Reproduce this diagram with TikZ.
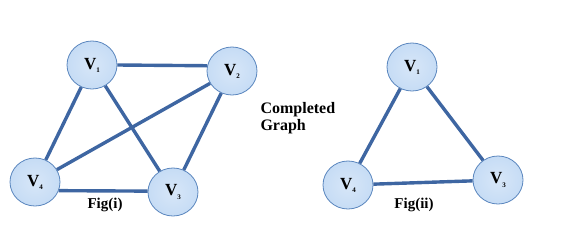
\documentclass[tikz,border=0pt]{standalone}
\usepackage{fontspec}
\setmainfont{Liberation Serif}
\usepackage{xcolor}
\usetikzlibrary{shapes.geometric}

\definecolor{vfill}{HTML}{C6DCF5}
\definecolor{vline}{HTML}{5A86BE}
\definecolor{elink}{HTML}{3E66A2}

\newcommand{\vtx}[1]{V\raisebox{-0.4ex}{\fontsize{7}{7}\selectfont #1}}

\begin{document}
\begin{tikzpicture}[
    x=1pt, y=-1pt,
    font=\bfseries,
    vertex/.style={
        ellipse,
        draw=vline,
        line width=0.8pt,
        inner color=vfill!70!white,
        outer color=vfill,
        minimum width=50pt,
        minimum height=48pt,
        font=\fontsize{17}{17}\selectfont\bfseries
    },
    caption/.style={
        font=\fontsize{15}{15}\selectfont\bfseries
    },
    edge/.style={
        draw=elink,
        line width=3.4pt
    }
]
\useasboundingbox (0,0) rectangle (580,247);

% --- Fig(i)
\node[vertex] (a1) at (92,65) {\vtx{1}};
\node[vertex] (a2) at (232,71) {\vtx{2}};
\node[vertex] (a3) at (173,192) {\vtx{3}};
\node[vertex] (a4) at (35,182) {\vtx{4}};
\node[caption] (fig1) at (105,205) {Fig(i)};

% --- label
\node[font=\fontsize{16}{17}\selectfont\bfseries, align=left, anchor=north west]
    (title) at (257,99) {Completed\\Graph};

% --- Fig(ii)
\node[vertex] (b1) at (412,67) {\vtx{1}};
\node[vertex] (b3) at (498,180) {\vtx{3}};
\node[vertex] (b4) at (348,185) {\vtx{4}};
\node[caption] (fig2) at (414,205) {Fig(ii)};

% --- Connections
\draw[edge] (a1.east) -- (a2.168);
\draw[edge] (a1) -- (a4);
\draw[edge] (a1) -- (a3);
\draw[edge] (a2) -- (a4);
\draw[edge] (a2) -- (a3);
\draw[edge] (a4.-20) -- (a3.178);

\draw[edge] (b1) -- (b4);
\draw[edge] (b1) -- (b3);
\draw[edge] (b4) -- (b3);

\end{tikzpicture}
\end{document}
